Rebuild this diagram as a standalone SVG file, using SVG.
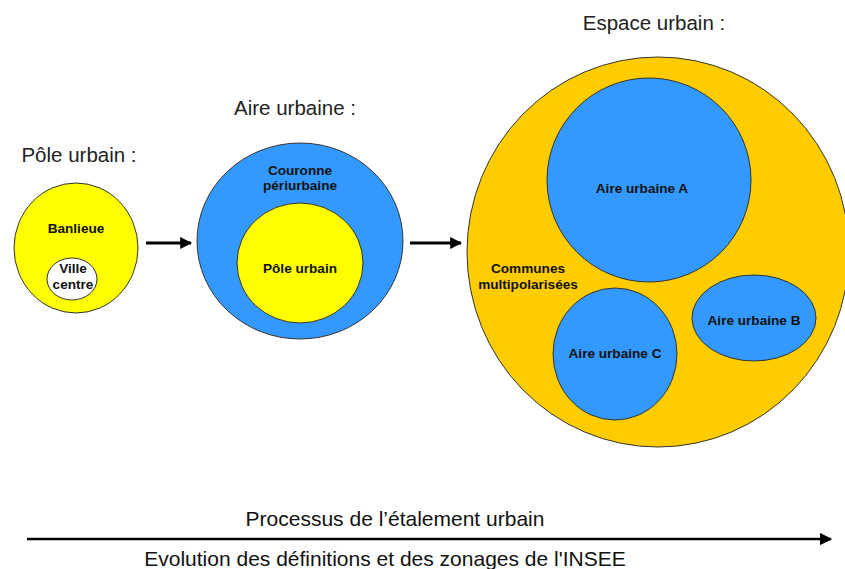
<svg xmlns="http://www.w3.org/2000/svg" width="845" height="569" viewBox="0 0 845 569">
<defs>
<style>
.title{font-family:"Liberation Sans",Arial,sans-serif;font-size:20.5px;fill:#222;text-anchor:middle}
.lbl{font-family:"Liberation Sans",Arial,sans-serif;font-size:13.6px;font-weight:bold;fill:#111;text-anchor:middle}
.bot{font-family:"Liberation Sans",Arial,sans-serif;font-size:21px;fill:#111;text-anchor:middle}
.c{stroke:#333;stroke-width:1}
.conn{stroke:#000;stroke-width:3;fill:none}
</style>
<marker id="ah" viewBox="0 0 10 10" refX="9" refY="5" markerWidth="4" markerHeight="4" orient="auto" markerUnits="strokeWidth">
<path d="M0,0 L10,5 L0,10 z" fill="#000"/>
</marker>
<marker id="ah2" viewBox="0 0 10 10" refX="9" refY="5" markerWidth="5" markerHeight="5" orient="auto" markerUnits="strokeWidth">
<path d="M0,0 L10,5 L0,10 z" fill="#000"/>
</marker>
</defs>
<rect width="845" height="569" fill="#fff"/>
<text class="title" x="79" y="162">Pôle urbain :</text>
<text class="title" x="295" y="115">Aire urbaine :</text>
<text class="title" x="654" y="30">Espace urbain :</text>

<g id="pole">
<ellipse class="c" cx="76" cy="248" rx="62" ry="65" fill="#FFFF00"/>
<text class="lbl" x="76" y="233">Banlieue</text>
</g>
<g id="ville">
<ellipse class="c" cx="72" cy="279" rx="25" ry="21" fill="#fff"/>
<text class="lbl" x="73" y="273">Ville</text>
<text class="lbl" x="73" y="289">centre</text>
</g>

<g id="aire">
<ellipse class="c" cx="300" cy="241" rx="103" ry="98" fill="#3399FF"/>
<text class="lbl" x="300" y="175">Couronne</text>
<text class="lbl" x="300" y="190">périurbaine</text>
</g>
<g id="pole2">
<ellipse class="c" cx="300" cy="263" rx="63" ry="60" fill="#FFFF00"/>
<text class="lbl" x="300" y="273">Pôle urbain</text>
</g>

<g id="espace">
<ellipse class="c" cx="658" cy="252" rx="191" ry="195" fill="#FFCC00"/>
<text class="lbl" x="528" y="273">Communes</text>
<text class="lbl" x="528" y="289">multipolarisées</text>
</g>
<g id="aireA">
<ellipse class="c" cx="649" cy="180" rx="102" ry="102" fill="#3399FF"/>
<text class="lbl" x="642" y="193">Aire urbaine A</text>
</g>
<g id="aireB">
<ellipse class="c" cx="754" cy="318" rx="62" ry="43" fill="#3399FF"/>
<text class="lbl" x="754" y="325">Aire urbaine B</text>
</g>
<g id="aireC">
<ellipse class="c" cx="615" cy="354" rx="62" ry="66" fill="#3399FF"/>
<text class="lbl" x="615" y="358">Aire urbaine C</text>
</g>

<g id="connectors">
<line class="conn" x1="146" y1="243" x2="191" y2="243" marker-end="url(#ah)"/>
<line class="conn" x1="410" y1="243" x2="461" y2="243" marker-end="url(#ah)"/>
<line x1="27" y1="539" x2="831" y2="539" stroke="#000" stroke-width="2.5" marker-end="url(#ah2)"/>
</g>

<text class="bot" x="395" y="526">Processus de l’étalement urbain</text>
<text class="bot" x="385" y="566">Evolution des définitions et des zonages de l'INSEE</text>
</svg>
